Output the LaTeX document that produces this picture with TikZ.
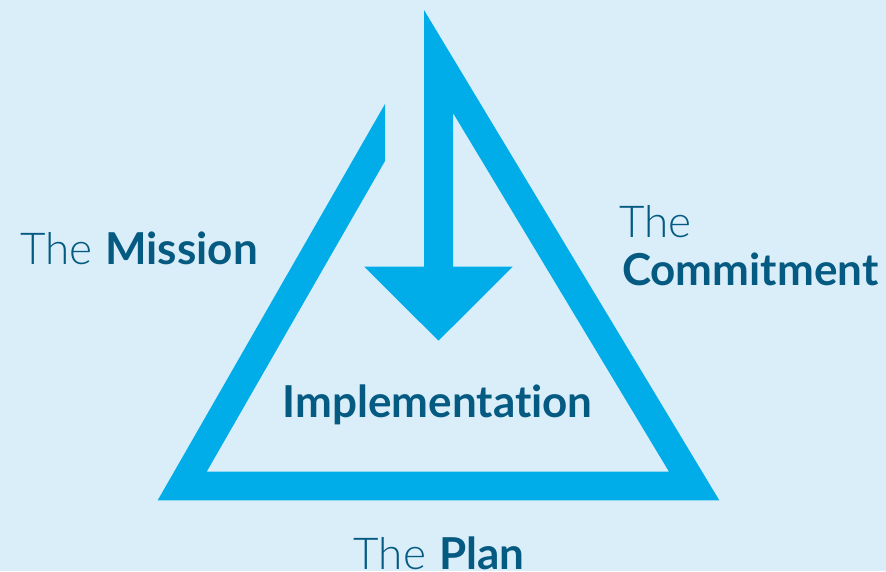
\documentclass[tikz,border=0pt]{standalone}
\usepackage{fontspec}
\setmainfont{Lato}[BoldFont={Lato Bold},Ligatures={NoCommon}]
\newfontfamily\lightf{Lato Light}[Ligatures={NoCommon}]
\definecolor{bgblue}{RGB}{218,238,249}
\definecolor{triblue}{RGB}{0,173,232}
\definecolor{txtblue}{RGB}{5,90,130}
\begin{document}
\begin{tikzpicture}[x=1pt,y=-1pt,
  lbl/.style={inner sep=0pt,outer sep=0pt,text=txtblue,font=\fontsize{44}{48}\selectfont},
  triband/.style={fill=triblue,draw=none}]
\useasboundingbox (0,0) rectangle (886,571);
\fill[bgblue] (0,0) rectangle (886,571);
% triangle with the arrow
\path[triband] (424,10) -- (719.3,500.3) -- (157.7,500.3) -- (385,104) -- (385,161)
  -- (206.7,471.7) -- (669,471.7) -- (453,113) -- (453,266.7) -- (512.7,266.7)
  -- (438.5,340.7) -- (364.3,266.7) -- (424,266.7) -- cycle;
% labels
\node[lbl,anchor=base west] (mission) at (20,264.3) {{\lightf The}\hspace{0.3em}\textbf{Mission}};
\node[lbl,anchor=base west] (the2) at (619.5,237.3) {\lightf The};
\node[lbl,anchor=base west] (commit) at (622,285) {\textbf{Commitment}};
\node[lbl,anchor=base] (impl) at (437.7,417) {\textbf{Implementation}};
\node[lbl,anchor=base] (plan) at (439.2,569.5) {{\lightf The}\hspace{0.3em}\textbf{Plan}};
\end{tikzpicture}
\end{document}
